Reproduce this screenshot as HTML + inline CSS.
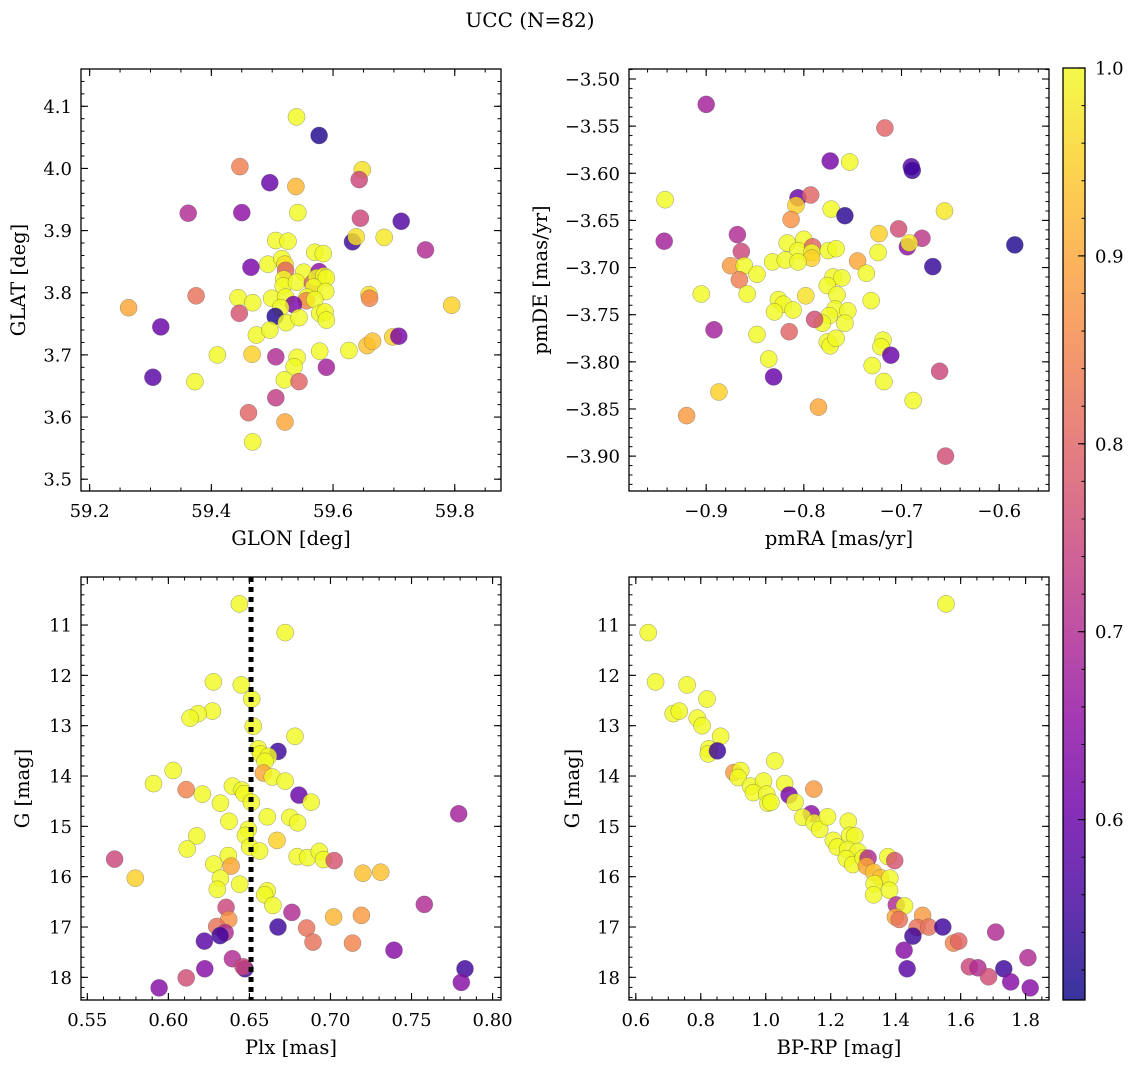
<!DOCTYPE html>
<html><head><meta charset="utf-8">
<style>
html,body{margin:0;padding:0;background:#fff;}
svg{display:block;font-family:"DejaVu Serif","Liberation Serif",serif;}
</style></head>
<body>
<svg id="fig" width="1136" height="1068" viewBox="0 0 1136 1068" xmlns="http://www.w3.org/2000/svg">
<text x="530" y="27" font-size="20" text-anchor="middle">UCC (N=82)</text>
</svg>
<script>
// ---- Panel 1: GLON vs GLAT ----
const p1Glon = [59.540,59.577,59.648,59.643,59.447,59.496,59.539,59.362,59.450,59.542,
59.645,59.712,59.752,59.632,59.638,59.684,59.506,59.526,59.570,59.584,
59.465,59.493,59.516,59.521,59.522,59.552,59.577,59.519,59.518,59.540,
59.566,59.573,59.585,59.589,59.568,59.588,59.375,59.264,59.444,59.468,
59.499,59.522,59.557,59.556,59.570,59.535,59.514,59.446,59.505,59.523,
59.544,59.578,59.587,59.589,59.659,59.660,59.795,59.317,59.474,59.496,
59.698,59.708,59.410,59.467,59.506,59.541,59.536,59.578,59.626,59.656,
59.665,59.589,59.304,59.373,59.520,59.544,59.506,59.461,59.521,59.468];
const p1Glat = [4.083,4.053,3.998,3.982,4.003,3.977,3.971,3.928,3.929,3.929,
3.920,3.915,3.869,3.882,3.890,3.889,3.884,3.883,3.865,3.863,
3.841,3.846,3.855,3.846,3.836,3.833,3.834,3.822,3.811,3.817,
3.815,3.824,3.827,3.824,3.809,3.802,3.795,3.776,3.792,3.784,
3.791,3.793,3.793,3.787,3.789,3.781,3.776,3.767,3.762,3.752,
3.760,3.767,3.769,3.756,3.797,3.791,3.780,3.745,3.732,3.740,
3.729,3.730,3.700,3.701,3.697,3.696,3.681,3.706,3.707,3.715,
3.722,3.680,3.664,3.657,3.660,3.657,3.631,3.607,3.592,3.560];
const p1Prob = [1,.52,.97,.75,.84,.6,.92,.7,.65,1,
.75,.57,.7,.55,.97,.98,1,1,1,1,
.62,1,1,.97,.8,1,.65,1,1,1,
.8,1,1,1,1,1,.82,.9,1,1,
1,1,1,.85,1,.62,1,.77,.52,1,
1,1,1,1,.97,.85,.95,.6,1,1,
.95,.62,1,.95,.7,1,1,1,1,.93,
.93,.68,.58,1,1,.8,.73,.8,.9,1];

// ---- Panel 2: pmRA vs pmDE ----
const p2PmRA = [-0.900,-0.717,-0.773,-0.753,-0.690,-0.689,-0.942,-0.806,-0.793,-0.808,
-0.772,-0.758,-0.813,-0.656,-0.943,-0.868,-0.703,-0.723,-0.679,-0.694,
-0.692,-0.584,-0.864,-0.817,-0.800,-0.806,-0.791,-0.792,-0.792,-0.775,
-0.767,-0.724,-0.875,-0.861,-0.832,-0.819,-0.806,-0.745,-0.668,-0.848,
-0.866,-0.736,-0.770,-0.761,-0.776,-0.766,-0.905,-0.858,-0.798,-0.826,
-0.821,-0.830,-0.811,-0.731,-0.768,-0.774,-0.755,-0.758,-0.781,-0.789,
-0.892,-0.848,-0.815,-0.776,-0.773,-0.767,-0.719,-0.721,-0.711,-0.836,
-0.730,-0.831,-0.661,-0.718,-0.887,-0.688,-0.785,-0.920,-0.655];
const p2PmDE = [-3.527,-3.552,-3.587,-3.588,-3.593,-3.597,-3.628,-3.626,-3.623,-3.634,
-3.638,-3.645,-3.649,-3.640,-3.672,-3.665,-3.659,-3.664,-3.669,-3.678,
-3.674,-3.676,-3.683,-3.674,-3.670,-3.682,-3.678,-3.684,-3.690,-3.682,
-3.680,-3.684,-3.698,-3.698,-3.694,-3.692,-3.694,-3.693,-3.699,-3.707,
-3.713,-3.706,-3.710,-3.711,-3.719,-3.729,-3.728,-3.728,-3.730,-3.734,
-3.739,-3.747,-3.745,-3.735,-3.744,-3.751,-3.746,-3.759,-3.759,-3.755,
-3.766,-3.771,-3.768,-3.779,-3.783,-3.775,-3.777,-3.784,-3.793,-3.797,
-3.804,-3.816,-3.810,-3.821,-3.832,-3.841,-3.848,-3.857,-3.900];
const p2Prob = [.68,.8,.62,1,.58,.55,1,.6,.8,.95,
1,.53,.87,.98,.68,.7,.76,.95,.72,.65,
.98,.52,.75,1,1,1,.8,1,.95,1,
1,1,.88,1,1,1,1,.9,.54,1,
.84,1,1,1,1,1,1,1,.97,1,
1,1,1,1,1,1,1,1,1,.76,
.68,1,.8,1,1,1,1,1,.6,1,
1,.6,.75,1,.95,1,.9,.88,.76];

// ---- Panel 3: Plx vs G ----
const p3Plx = [.6438,.6721,.6278,.6450,.6514,.6272,.6183,.6134,.6524,.6781,
.6676,.6555,.6569,.6617,.6596,.6586,.6641,.6721,.6030,.5908,
.6110,.6210,.6395,.6454,.6467,.6321,.6512,.6805,.6881,.7791,
.6374,.6610,.6750,.6797,.6493,.6475,.6175,.6670,.6502,.6563,
.6116,.5668,.6370,.6280,.6387,.6795,.6859,.6931,.6957,.7023,
.5796,.7200,.7310,.6321,.6302,.6440,.6610,.6594,.6645,.7579,
.6356,.6762,.6372,.7019,.7191,.6298,.6350,.6319,.6676,.6853,
.6222,.6892,.7136,.7392,.6395,.6473,.6461,.6225,.6110,.5943,.7830,.7807];
const p3G = [10.58,11.15,12.13,12.19,12.47,12.71,12.76,12.85,13.01,13.21,
13.51,13.46,13.56,13.61,13.71,13.94,14.02,14.10,13.89,14.15,
14.27,14.36,14.20,14.28,14.35,14.54,14.52,14.38,14.52,14.75,
14.90,14.81,14.82,14.93,15.06,15.18,15.19,15.28,15.41,15.49,
15.45,15.65,15.58,15.75,15.79,15.60,15.62,15.50,15.66,15.68,
16.03,15.93,15.91,16.03,16.25,16.15,16.28,16.36,16.57,16.55,
16.61,16.71,16.85,16.80,16.77,16.99,17.11,17.17,17.00,17.02,
17.28,17.30,17.32,17.46,17.63,17.83,17.79,17.83,18.01,18.21,17.83,18.10];
const p3Prob = [1,1,1,1,1,1,1,1,1,1,
.55,1,1,1,1,.9,1,1,1,1,
.85,1,1,1,1,1,1,.6,1,.68,
1,1,1,1,1,1,1,.95,1,1,
1,.75,1,1,.9,1,1,1,1,.77,
.95,.93,.93,1,1,1,1,1,1,.7,
.75,.7,.87,.92,.88,.82,.7,.55,.55,.82,
.58,.82,.85,.64,.7,.55,.75,.64,.76,.64,.55,.64];
const p3PlxMedian = 0.651;

// ---- Panel 4: BP-RP vs G ----
const p4Color = [1.555,0.638,0.661,0.758,0.819,0.715,0.734,0.789,0.804,0.861,
0.825,0.823,0.851,1.028,0.902,0.923,0.915,0.953,0.993,0.962,
1.003,1.007,1.016,1.058,1.148,1.072,1.090,1.140,1.114,1.149,
1.166,1.190,1.254,1.258,1.274,1.208,1.220,1.252,1.284,1.248,
1.268,1.300,1.315,1.376,1.397,1.310,1.332,1.353,1.382,1.334,
1.332,1.381,1.402,1.427,1.399,1.411,1.483,1.466,1.502,1.545,
1.453,1.578,1.594,1.708,1.426,1.435,1.627,1.653,1.686,1.733,
1.754,1.807,1.814];
const p4G = [10.58,11.15,12.13,12.19,12.47,12.76,12.71,12.85,13.00,13.21,
13.46,13.56,13.50,13.70,13.93,13.89,14.03,14.20,14.10,14.33,
14.36,14.54,14.52,14.15,14.26,14.38,14.52,14.75,14.82,14.93,
15.06,14.81,14.90,15.18,15.19,15.28,15.41,15.46,15.50,15.64,
15.76,15.63,15.63,15.60,15.68,15.79,15.91,16.02,16.03,16.14,
16.36,16.27,16.56,16.58,16.80,16.85,16.77,17.01,17.00,17.00,
17.18,17.32,17.28,17.10,17.46,17.83,17.79,17.81,17.99,17.83,
18.09,17.61,18.21];
const p4Prob = [1,1,1,1,1,1,1,1,1,1,
1,1,.55,1,.88,1,1,1,1,1,
1,1,1,1,.88,.62,1,.65,1,1,
1,1,1,1,1,1,1,1,1,1,
1,1,.7,1,.77,.9,.93,.93,1,1,
1,1,.7,1,.9,.82,.88,.82,.82,.55,
.55,.85,.8,.7,.64,.58,.75,.7,.76,.55,
.64,.7,.64];

const cbTicks = [0.6,0.7,0.8,0.9,1.0];
const VMIN = 0.504, VMAX = 1.0;

const NS = "http://www.w3.org/2000/svg";
const svg = document.getElementById('fig');
const stops = ["#0d0887","#41049d","#6a00a8","#8f0da4","#b12a90","#cc4778","#e16462","#f2844b","#fca636","#fcce25","#f0f921"];
function hex(h){return [parseInt(h.slice(1,3),16),parseInt(h.slice(3,5),16),parseInt(h.slice(5,7),16)];}
function plasma(t){
  t=Math.max(0,Math.min(1,t));
  const f=t*10, i=Math.min(9,Math.floor(f)), u=f-i;
  const a=hex(stops[i]), b=hex(stops[i+1]);
  return "rgb("+a.map((v,k)=>Math.round(v+(b[k]-v)*u)).join(",")+")";
}
function mk(tag, attrs, parent){
  const e=document.createElementNS(NS,tag);
  for(const k in attrs) e.setAttribute(k,attrs[k]);
  (parent||svg).appendChild(e);
  return e;
}
function fmt(v,dec){let s=v.toFixed(dec); if(v<0) s="\u2212"+s.slice(1); return s;}

function panel(cfg){
  const g=mk('g',{});
  
  
  const [L,T,R,B]=cfg.box;
  const sx=v=>L+(v-cfg.xd[0])/(cfg.xd[1]-cfg.xd[0])*(R-L);
  const sy=cfg.yinv ? (v=>T+(v-cfg.yd[0])/(cfg.yd[1]-cfg.yd[0])*(B-T))
                    : (v=>B-(v-cfg.yd[0])/(cfg.yd[1]-cfg.yd[0])*(B-T));
  for(let i=0;i<cfg.xs.length;i++){
    const c=mk('circle',{cx:sx(cfg.xs[i]).toFixed(1),cy:sy(cfg.ys[i]).toFixed(1),r:8.5,
      fill:plasma((cfg.cs[i]-VMIN)/(VMAX-VMIN)),'fill-opacity':0.82,stroke:'#555','stroke-width':0.5,'stroke-opacity':0.6},g);
    
    
  }
  if(cfg.vline!==undefined){
    const l=mk('line',{x1:sx(cfg.vline),x2:sx(cfg.vline),y1:T,y2:B,stroke:'#000','stroke-width':5,'stroke-dasharray':'5 5'},g);
    
    
  }
  const fr=mk('rect',{x:L,y:T,width:R-L,height:B-T,fill:'none',stroke:'#000','stroke-width':1.3},g);
  
  
  const eps=1e-9;
  function ticksX(step,len){
    const s=Math.ceil((cfg.xd[0]-eps)/step);
    for(let k=s;k*step<=cfg.xd[1]+eps;k++){
      const x=sx(k*step);
      mk('line',{x1:x,x2:x,y1:B,y2:B-len,stroke:'#000','stroke-width':1},g);
      mk('line',{x1:x,x2:x,y1:T,y2:T+len,stroke:'#000','stroke-width':1},g);
    }
  }
  function ticksY(step,len){
    const lo=Math.min(cfg.yd[0],cfg.yd[1]),hi=Math.max(cfg.yd[0],cfg.yd[1]);
    const s=Math.ceil((lo-eps)/step);
    for(let k=s;k*step<=hi+eps;k++){
      const y=sy(k*step);
      mk('line',{x1:L,x2:L+len,y1:y,y2:y,stroke:'#000','stroke-width':1},g);
      mk('line',{x1:R,x2:R-len,y1:y,y2:y,stroke:'#000','stroke-width':1},g);
    }
  }
  ticksX(cfg.xminor,3.5); ticksY(cfg.yminor,3.5);
  cfg.xticks.forEach(v=>{
    const x=sx(v);
    mk('line',{x1:x,x2:x,y1:B,y2:B-7,stroke:'#000','stroke-width':1.1},g);
    mk('line',{x1:x,x2:x,y1:T,y2:T+7,stroke:'#000','stroke-width':1.1},g);
    const t=mk('text',{x:x,y:B+26,'font-size':18,'text-anchor':'middle'},g);
    t.textContent=fmt(v,cfg.xdec);
    
    
  });
  cfg.yticks.forEach(v=>{
    const y=sy(v);
    mk('line',{x1:L,x2:L+7,y1:y,y2:y,stroke:'#000','stroke-width':1.1},g);
    mk('line',{x1:R,x2:R-7,y1:y,y2:y,stroke:'#000','stroke-width':1.1},g);
    const t=mk('text',{x:L-9,y:y+6.5,'font-size':18,'text-anchor':'end'},g);
    t.textContent=fmt(v,cfg.ydec);
    
    
  });
  const xl=mk('text',{x:(L+R)/2,y:B+54,'font-size':19.5,'text-anchor':'middle'},g);
  xl.textContent=cfg.xlabel;
  
  
  const yl=mk('text',{x:0,y:0,'font-size':19.5,'text-anchor':'middle',transform:`translate(${cfg.ylx},${(T+B)/2}) rotate(-90)`},g);
  yl.textContent=cfg.ylabel;
  
  
}
function range(a,b,s){const r=[];for(let v=a;v<=b+1e-9;v+=s)r.push(+v.toFixed(4));return r;}

panel({name:'panel-glon-glat',box:[81,69,501,491],xd:[59.1858,59.876],yd:[3.481,4.160],
  xs:p1Glon,ys:p1Glat,cs:p1Prob,xticks:range(59.2,59.8,0.2),yticks:range(3.5,4.1,0.1),xdec:1,ydec:1,
  xminor:0.05,yminor:0.02,xlabel:'GLON [deg]',ylabel:'GLAT [deg]',ylx:25});
panel({name:'panel-pmra-pmde',box:[629,69,1049,491],xd:[-0.979,-0.549],yd:[-3.937,-3.4894],
  xs:p2PmRA,ys:p2PmDE,cs:p2Prob,xticks:range(-0.9,-0.6,0.1),yticks:range(-3.9,-3.5,0.05),xdec:1,ydec:2,
  xminor:0.02,yminor:0.01,xlabel:'pmRA [mas/yr]',ylabel:'pmDE [mas/yr]',ylx:547});
panel({name:'panel-plx-g',box:[81,577,501,1000],xd:[0.5461,0.8052],yd:[10.046,18.45],yinv:true,
  xs:p3Plx,ys:p3G,cs:p3Prob,xticks:range(0.55,0.8,0.05),yticks:range(11,18,1),xdec:2,ydec:0,
  xminor:0.01,yminor:0.2,xlabel:'Plx [mas]',ylabel:'G [mag]',ylx:29,vline:p3PlxMedian});
panel({name:'panel-bprp-g',box:[629,577,1049,1000],xd:[0.579,1.872],yd:[10.046,18.45],yinv:true,
  xs:p4Color,ys:p4G,cs:p4Prob,xticks:range(0.6,1.8,0.2),yticks:range(11,18,1),xdec:1,ydec:0,
  xminor:0.05,yminor:0.2,xlabel:'BP-RP [mag]',ylabel:'G [mag]',ylx:579});

(function(){
  const L=1063,R=1085,T=68,B=1000;
  const defs=mk('defs',{});
  const lg=mk('linearGradient',{id:'cbg',x1:0,y1:1,x2:0,y2:0},defs);
  for(let i=0;i<=20;i++){mk('stop',{offset:i/20,'stop-color':plasma(i/20)},lg);}
  const g=mk('g',{});
  
  
  mk('rect',{x:L,y:T,width:R-L,height:B-T,fill:'url(#cbg)','fill-opacity':0.82},g);
  mk('rect',{x:L,y:T,width:R-L,height:B-T,fill:'none',stroke:'#000','stroke-width':1.3},g);
  const sy=v=>B-(v-VMIN)/(VMAX-VMIN)*(B-T);
  for(let k=Math.ceil(VMIN/0.02);k*0.02<=VMAX+1e-9;k++){
    const y=sy(k*0.02);
    mk('line',{x1:R,x2:R-3.5,y1:y,y2:y,stroke:'#000','stroke-width':1},g);
  }
  cbTicks.forEach(v=>{
    const y=sy(v);
    mk('line',{x1:R,x2:R-7,y1:y,y2:y,stroke:'#000','stroke-width':1.1},g);
    const t=mk('text',{x:R+10,y:y+6.5,'font-size':18},g);
    t.textContent=v.toFixed(1);
    
    
  });
})();
</script>
</body></html>
